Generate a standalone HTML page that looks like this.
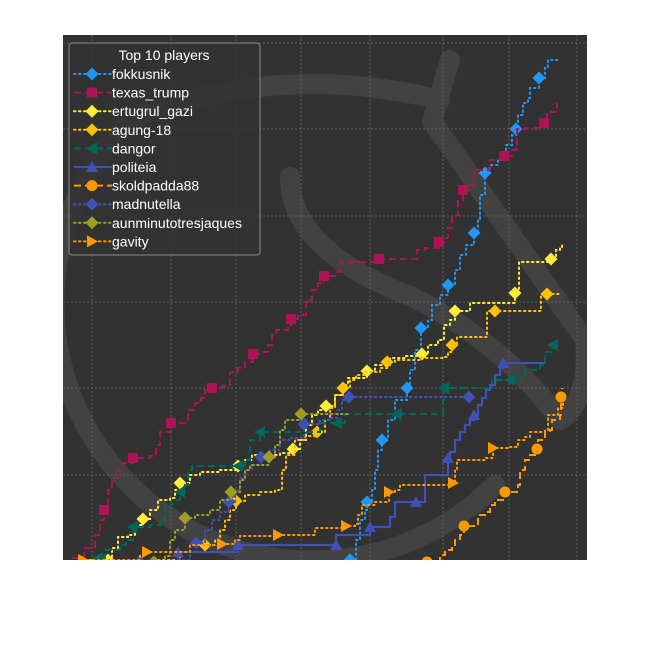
<!DOCTYPE html>
<html><head><meta charset="utf-8"><style>
html,body{margin:0;padding:0;background:#fff;}
svg{display:block;font-family:"Liberation Sans",sans-serif;}
</style></head><body>
<svg id="chart" width="650" height="650" viewBox="0 0 650 650" xmlns="http://www.w3.org/2000/svg">
<defs><clipPath id="wc"><rect x="63" y="35" width="524" height="525"/></clipPath></defs>
<rect x="63" y="35" width="524" height="525" fill="#323232"/>
<g clip-path="url(#wc)" fill="none" stroke="#424242" stroke-width="20" stroke-linecap="round">
<path d="M130,120 A245,245 0 1 0 495,485"/>
<path d="M130,120 Q280,60 440,100"/>
<path d="M432,121 L450,60"/>
<path d="M432,121 L585,340"/>
<path d="M290,177 Q290,250 410,296 Q500,340 560,420"/>
<path d="M585,340 Q590,400 560,420"/>
</g>
<g id="grid"></g>
<g id="series"></g>
<g id="legend"></g>
</svg>
<script>
const xMin=0,xMax=524,yMin=0,yMax=527;
const xGridTicks=[29,108,173,238,307,380,446,514];
const yGridTicks=[87,174,260,346,433,519];
const seriesNames=["fokkusnik","texas_trump","ertugrul_gazi","agung-18","dangor","politeia","skoldpadda88","madnutella","aunminutotresjaques","gavity"];
const fokkusnik=[[280,0,0],[287,2,1],[293,22,0],[297,42,0],[302,52,0],[304,60,1],[309,72,0],[312,92,0],[315,112,0],[319,122,1],[325,142,0],[332,162,0],[344,174,1],[347,192,0],[352,212,0],[358,234,1],[365,242,0],[369,257,0],[377,267,0],[385,277,1],[392,292,0],[397,307,0],[403,317,0],[411,329,1],[415,342,0],[417,367,0],[422,389,1],[427,397,0],[435,402,0],[443,417,0],[449,427,0],[453,433,1],[455,447,0],[460,459,0],[465,464,0],[467,474,0],[476,484,1],[482,494,0],[485,502,0],[495,502,0]];
const texasTrump=[[9,4,0],[21,14,0],[32,27,0],[37,42,0],[41,52,1],[45,72,0],[49,84,0],[55,92,0],[59,99,0],[70,104,1],[87,106,0],[93,117,0],[97,130,0],[108,139,1],[122,142,0],[125,152,0],[132,159,0],[138,164,0],[142,172,0],[149,174,1],[159,176,0],[167,190,0],[175,194,0],[182,200,0],[190,208,1],[199,210,0],[205,217,0],[209,227,0],[213,232,0],[225,234,0],[228,243,1],[235,247,0],[243,262,0],[249,272,0],[255,279,0],[261,286,1],[272,290,0],[277,300,0],[316,303,1],[349,303,0],[354,312,0],[362,314,0],[376,320,1],[382,324,0],[385,334,0],[389,347,0],[395,362,0],[400,372,1],[407,377,0],[411,392,0],[425,394,0],[427,402,0],[441,406,1],[449,412,0],[453,417,0],[454,433,0],[462,434,0],[481,439,1],[484,450,0],[494,452,0],[494,459,0]];
const ertugrulGazi=[[22,2,0],[45,2,1],[49,14,0],[55,25,0],[65,27,0],[72,37,0],[80,43,1],[87,52,0],[95,62,0],[107,64,0],[112,72,0],[117,79,1],[127,87,0],[137,90,0],[157,92,0],[175,96,1],[182,102,0],[189,107,0],[217,109,0],[230,113,1],[237,122,0],[243,137,0],[249,147,0],[255,152,0],[263,156,1],[272,167,0],[279,177,0],[285,184,0],[304,191,1],[312,197,0],[327,204,0],[342,206,0],[359,208,1],[365,217,0],[375,222,0],[381,237,0],[387,242,0],[392,251,1],[407,259,0],[452,269,1],[456,300,0],[488,303,1],[493,312,0],[497,315,0],[499,320,0]];
const agung18=[[37,0,0],[87,2,0],[117,10,0],[142,17,1],[152,22,0],[157,32,0],[162,42,0],[167,52,0],[173,61,1],[182,67,0],[197,70,0],[212,72,0],[219,92,0],[223,107,0],[232,122,0],[242,126,0],[254,130,1],[262,142,0],[267,154,0],[272,167,0],[280,174,1],[287,182,0],[293,187,0],[302,190,0],[317,194,0],[324,200,1],[332,202,0],[357,204,0],[382,205,0],[385,210,0],[389,217,1],[394,225,0],[424,251,0],[432,251,1],[478,268,0],[484,268,1],[497,268,0]];
const dangor=[[32,0,0],[35,4,1],[42,12,0],[57,17,0],[63,22,0],[70,35,1],[87,37,0],[97,42,0],[102,57,0],[109,62,0],[117,70,1],[122,77,0],[125,92,0],[129,96,0],[175,96,1],[182,102,0],[187,122,0],[197,130,1],[254,130,0],[257,139,0],[274,139,1],[282,148,0],[334,148,1],[377,148,0],[380,162,0],[381,174,1],[427,174,0],[429,182,0],[447,182,1],[457,184,0],[462,192,0],[477,197,0],[482,210,0],[490,217,1]];
const politeia=[[112,0,0],[115,10,1],[175,17,1],[273,17,1],[273,27,0],[302,27,0],[307,35,1],[327,45,0],[332,60,0],[353,60,1],[362,87,0],[382,87,0],[385,104,1],[387,110,0],[392,122,0],[397,130,0],[402,137,0],[407,142,0],[411,147,1],[415,157,0],[419,164,0],[423,172,0],[427,177,0],[432,187,0],[437,194,0],[440,199,1],[482,199,0]];
const skoldpadda88=[[364,0,1],[377,7,0],[382,12,0],[389,14,0],[392,22,0],[397,27,0],[401,36,1],[412,37,0],[415,47,0],[422,50,0],[427,57,0],[432,62,0],[442,70,1],[455,77,0],[457,92,0],[462,102,0],[467,107,0],[474,113,1],[475,122,0],[482,130,0],[487,132,0],[489,142,0],[497,147,0],[498,165,1],[499,174,0]];
const madnutella=[[77,0,1],[117,2,0],[127,10,0],[133,19,1],[142,32,0],[149,42,0],[157,50,0],[166,60,1],[172,72,0],[177,84,0],[182,92,0],[189,97,0],[198,105,1],[207,112,0],[217,122,0],[227,124,0],[241,138,1],[257,142,0],[267,144,0],[275,152,0],[279,162,0],[286,165,1],[406,165,1]];
const aunminuto=[[91,0,1],[102,6,0],[107,22,0],[112,32,0],[122,44,1],[132,47,0],[147,52,0],[157,62,0],[168,70,1],[177,82,0],[182,92,0],[187,97,0],[206,105,1],[212,117,0],[217,132,0],[222,142,0],[238,148,1],[287,148,0]];
const gavity=[[12,0,0],[20,2,1],[77,7,0],[84,10,1],[122,10,0],[127,17,0],[159,18,1],[172,22,0],[177,26,0],[215,27,1],[247,27,0],[252,34,0],[283,36,1],[292,38,0],[295,47,0],[299,57,0],[312,60,0],[326,70,1],[332,72,0],[337,77,0],[390,79,1],[392,92,0],[394,102,0],[422,104,0],[430,114,1],[447,115,0],[455,122,0],[462,125,0],[467,130,0],[482,132,0],[485,147,0],[495,154,0],[500,172,0]];

const PX0=63,PX1=587,PY0=562,PY1=35;
function xs(v){return PX0+(v-xMin)/(xMax-xMin)*(PX1-PX0);}
function ys(v){return PY0-(v-yMin)/(yMax-yMin)*(PY0-PY1);}
const NS="http://www.w3.org/2000/svg";
function mk(tag,attrs,parent){const e=document.createElementNS(NS,tag);for(const k in attrs)e.setAttribute(k,attrs[k]);parent.appendChild(e);return e;}

const styles=[
 {data:fokkusnik,color:"#2196f3",dash:"1.5,3.5",marker:"diamond"},
 {data:texasTrump,color:"#ad1457",dash:"7,4",marker:"square"},
 {data:ertugrulGazi,color:"#ffeb3b",dash:"1.5,3.5",marker:"diamond"},
 {data:agung18,color:"#ffc107",dash:"1.5,3.5",marker:"diamond"},
 {data:dangor,color:"#00695c",dash:"7,4",marker:"tleft"},
 {data:politeia,color:"#3f51b5",dash:"none",marker:"tup"},
 {data:skoldpadda88,color:"#ff9800",dash:"7,4",marker:"circle"},
 {data:madnutella,color:"#3f51b5",dash:"1.5,3.5",marker:"diamond"},
 {data:aunminuto,color:"#9e9d24",dash:"1.5,3.5",marker:"diamond"},
 {data:gavity,color:"#ff9800",dash:"1.5,3.5",marker:"tright"}
];

function marker(type,cx,cy,color,parent){
 let e;
 if(type==="diamond") e=mk("polygon",{points:`${cx},${cy-6.5} ${cx+6.5},${cy} ${cx},${cy+6.5} ${cx-6.5},${cy}`,fill:color},parent);
 else if(type==="square") e=mk("rect",{x:cx-5,y:cy-5,width:10,height:10,fill:color},parent);
 else if(type==="circle") e=mk("circle",{cx:cx,cy:cy,r:5.5,fill:color},parent);
 else if(type==="tleft") e=mk("polygon",{points:`${cx-6},${cy} ${cx+5},${cy-6} ${cx+5},${cy+6}`,fill:color},parent);
 else if(type==="tright") e=mk("polygon",{points:`${cx+6},${cy} ${cx-5},${cy-6} ${cx-5},${cy+6}`,fill:color},parent);
 else e=mk("polygon",{points:`${cx},${cy-6} ${cx+6},${cy+5} ${cx-6},${cy+5}`,fill:color},parent);
 return e;
}

const grid=document.getElementById("grid");
xGridTicks.forEach(t=>{const l=mk("line",{x1:xs(t),x2:xs(t),y1:35,y2:560,stroke:"#5e5e5e","stroke-width":1,"stroke-dasharray":"2,2"},grid);

});
yGridTicks.forEach(t=>{const l=mk("line",{x1:63,x2:587,y1:ys(t),y2:ys(t),stroke:"#5e5e5e","stroke-width":1,"stroke-dasharray":"2,2"},grid);

});

const sl=document.getElementById("series");
const clip=mk("clipPath",{id:"pc"},sl);mk("rect",{x:63,y:35,width:524,height:525},clip);
styles.forEach((s,i)=>{
 const g=mk("g",{"clip-path":"url(#pc)"},sl);
 
 
 let d="";
 s.data.forEach((p,j)=>{const X=xs(p[0]),Y=ys(p[1]);
  if(j===0)d+=`M${X},${Y}`;else{d+=`H${X}V${Y}`;}});
 const path=mk("path",{d:d,fill:"none",stroke:s.color,"stroke-width":s.dash==="none"?2.2:2,"stroke-dasharray":s.dash,"stroke-linecap":s.dash.startsWith("1.5")?"round":"butt"},g);
 
 
 s.data.forEach(p=>{if(p[2]){const m=marker(s.marker,xs(p[0]),ys(p[1]),s.color,g);
  
  }});
});

const lg=document.getElementById("legend");
const box=mk("rect",{x:69,y:43,width:191,height:212,rx:3,fill:"#323232","fill-opacity":0.85,stroke:"#8a8a8a","stroke-width":1},lg);


const title=mk("text",{x:164,y:60,"text-anchor":"middle",fill:"#ffffff","font-size":14},lg);
title.textContent="Top 10 players";


styles.forEach((s,i)=>{
 const y=74+i*18.6;
 const g=mk("g",{},lg);
 
 
 mk("line",{x1:74,x2:112,y1:y,y2:y,stroke:s.color,"stroke-width":2,"stroke-dasharray":s.dash,"stroke-linecap":s.dash.startsWith("1.5")?"round":"butt"},g);
 marker(s.marker,92,y,s.color,g);
 const t=mk("text",{x:112,y:y+5,fill:"#ffffff","font-size":14},g);
 t.textContent=seriesNames[i];
});
</script>
</body></html>
